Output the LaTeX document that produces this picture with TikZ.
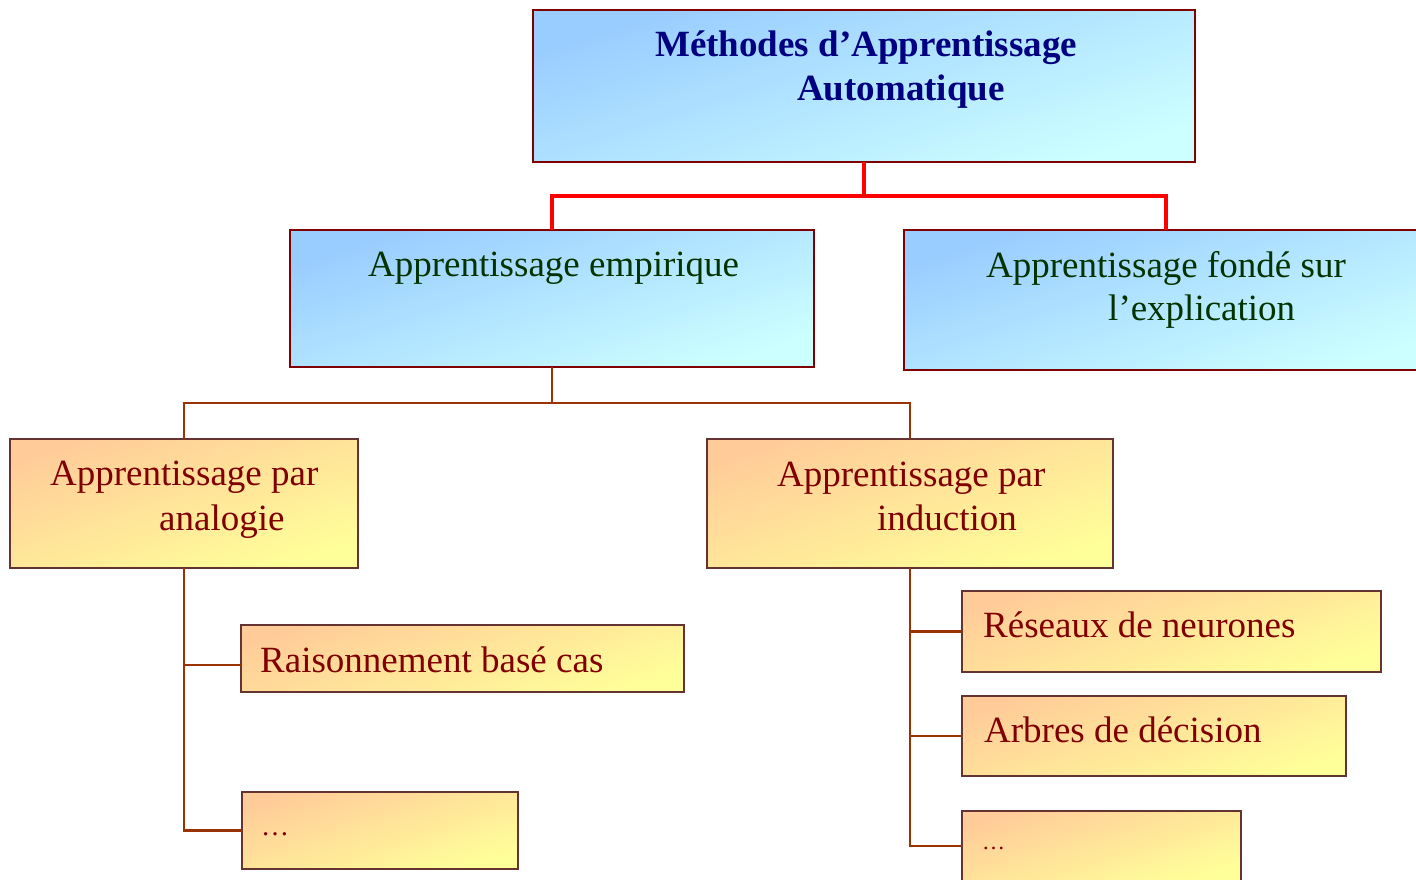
\documentclass[tikz,border=0pt]{standalone}
\usepackage{fontspec}
\setmainfont{Liberation Serif}
\definecolor{blueA}{HTML}{99CCFF}
\definecolor{blueB}{HTML}{CCFFFF}
\definecolor{orA}{HTML}{FFCC99}
\definecolor{orB}{HTML}{FFFF99}
\definecolor{bluebd}{HTML}{800000}
\definecolor{orbd}{HTML}{663333}
\definecolor{navyT}{HTML}{000080}
\definecolor{greenT}{HTML}{003300}
\definecolor{redT}{HTML}{800000}
\definecolor{brownL}{HTML}{993300}
\definecolor{redL}{HTML}{FF0000}
\tikzset{
  boxbase/.style={anchor=north west, inner sep=0pt, outer sep=0pt, line width=2.5pt},
  bluebox/.style={boxbase, draw=bluebd, top color=blueA, bottom color=blueB, shading angle=18},
  orbox/.style={boxbase, draw=orbd, top color=orA, bottom color=orB, shading angle=18},
  txt/.style={anchor=base west, inner sep=0pt, font=\fontsize{37}{44}\selectfont},
  titletxt/.style={txt, text=navyT, font=\fontsize{37}{44}\selectfont\bfseries},
  bluetxt/.style={txt, text=greenT},
  ortxt/.style={txt, text=redT},
  redline/.style={draw=redL, line width=3.5pt},
  brownline/.style={draw=brownL, line width=2.8pt},
}
\begin{document}
\begin{tikzpicture}[x=1pt,y=-1pt]
\useasboundingbox (0,0) rectangle (1416,879);
% boxes
\node[bluebox, minimum width=662pt, minimum height=152pt] (top) at (533,10) {};
\node[bluebox, minimum width=524pt, minimum height=137pt] (emp) at (290,230) {};
\node[bluebox, minimum width=524pt, minimum height=140pt] (expl) at (904,230) {};
\node[orbox, minimum width=348pt, minimum height=129pt] (ana) at (10,439) {};
\node[orbox, minimum width=406pt, minimum height=129pt] (ind) at (707,439) {};
\node[orbox, minimum width=443pt, minimum height=67pt] (rbc) at (241,625) {};
\node[orbox, minimum width=276pt, minimum height=77pt] (dotsA) at (242,792) {};
\node[orbox, minimum width=419pt, minimum height=81pt] (res) at (962,591) {};
\node[orbox, minimum width=384pt, minimum height=80pt] (arb) at (962,696) {};
\node[orbox, minimum width=279pt, minimum height=70pt] (dotsB) at (962,811) {};
% connectors
\draw[redline] (top.south) -- ++(0,34) coordinate (rj) -| (emp.north);
\draw[redline] (rj) -| (expl.north);
\draw[brownline] (emp.south) -- ++(0,36) coordinate (bj) -| (ana.north);
\draw[brownline] (bj) -| (ind.north);
\draw[brownline] (ana.south) |- ([yshift=-6.5pt]rbc.west);
\draw[brownline] (ana.south) |- (dotsA.west);
\draw[brownline] (ind.south) |- (res.west);
\draw[brownline] (ind.south) |- (arb.west);
\draw[brownline] (ind.south) |- (dotsB.west);
% texts
\node[titletxt] (t1) at (655,56) {Méthodes d’Apprentissage};
\node[titletxt] (t2) at (797,100) {Automatique};
\node[bluetxt] (e1) at (368,276) {Apprentissage empirique};
\node[bluetxt] (x1) at (986,277) {Apprentissage fondé sur};
\node[bluetxt] (x2) at (1108,320) {l’explication};
\node[ortxt] (a1) at (50,485) {Apprentissage par};
\node[ortxt] (a2) at (159,530) {analogie};
\node[ortxt] (i1) at (777,486) {Apprentissage par};
\node[ortxt] (i2) at (877,530) {induction};
\node[ortxt] (r1) at (260,672) {Raisonnement basé cas};
\node[ortxt] (s1) at (983,637) {Réseaux de neurones};
\node[ortxt] (b1) at (984,742) {Arbres de décision};
\node[ortxt, font=\fontsize{28}{32}\selectfont] (d1) at (261,835) {…};
\node[ortxt, font=\fontsize{23}{28}\selectfont] (d2) at (982,849) {…};
\end{tikzpicture}
\end{document}
